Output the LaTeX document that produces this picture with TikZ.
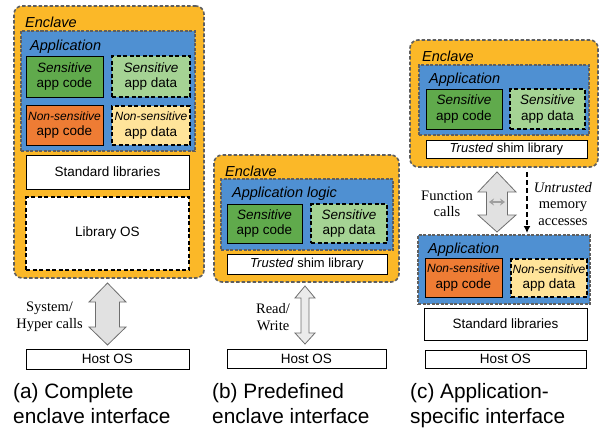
\documentclass[tikz,border=0pt]{standalone}
\usepackage{fontspec}
\setmainfont{Liberation Sans}
\newfontfamily\seriffont{Liberation Serif}
\usetikzlibrary{calc,arrows.meta}
\definecolor{enclfill}{RGB}{251,184,40}
\definecolor{appblue}{RGB}{79,144,210}
\definecolor{sgreen}{RGB}{96,170,76}
\definecolor{lgreen}{RGB}{165,211,148}
\definecolor{norange}{RGB}{238,124,52}
\definecolor{lyellow}{RGB}{255,228,154}
\definecolor{bordgray}{RGB}{95,95,95}
\definecolor{arrfill}{RGB}{225,225,225}
\definecolor{arrline}{RGB}{110,110,110}
\newcommand\mybox[7]{\node[#1, minimum width=#5pt-#3pt, minimum height=#6pt-#4pt] (#2) at (#3,#4) {#7};}
\newcommand\nsfont{\fontsize{12}{15.5}\selectfont}
\tikzset{
  box/.style={anchor=north west, inner sep=0pt, outer sep=0pt, align=center, font=\fontsize{13.5}{15.5}\selectfont},
  enclavebox/.style={box, fill=enclfill, draw=bordgray, line width=1.6pt, dash pattern=on 3.5pt off 2pt, rounded corners=8pt},
  appbox/.style={box, fill=appblue, draw=bordgray, line width=1.3pt, dash pattern=on 3pt off 1.5pt},
  solidbox/.style={box, draw=black, line width=0.9pt},
  dashbox/.style={box, draw=black, line width=1.6pt, dash pattern=on 4pt off 2.5pt},
  lbl/.style={anchor=base west, inner sep=0pt, font=\fontsize{14.5}{17}\selectfont\itshape},
  serlbl/.style={align=center, inner sep=0pt, font=\seriffont\fontsize{14.5}{16.5}\selectfont},
  caption/.style={anchor=base west, align=left, inner sep=0pt, font=\fontsize{20.8}{25}\selectfont},
  blockarrow/.style={fill=arrfill, draw=arrline, line width=0.8pt, line join=miter},
}
\begin{document}
\begin{tikzpicture}[x=1pt,y=-1pt]
\useasboundingbox (0,0) rectangle (600,434);
% ---------- (a) ----------
\mybox{enclavebox}{enclA}{14}{6}{204}{278}{}
\node[lbl] (enclAl) at (25,27) {Enclave};
\mybox{appbox}{appA}{21}{31}{195}{151}{}
\node[lbl] (appAl) at (30,50) {Application};
\mybox{solidbox,fill=sgreen}{scA}{26}{56}{103}{97}{\textit{Sensitive}\\app code}
\mybox{dashbox,fill=lgreen}{sdA}{112}{56}{190}{97}{\textit{Sensitive}\\app data}
\mybox{solidbox,fill=norange}{ncA}{26}{105}{103}{145}{{\nsfont\textit{Non-sensitive}}\\app code}
\mybox{dashbox,fill=lyellow}{ndA}{112}{106}{190}{145}{{\nsfont\textit{Non-sensitive}}\\app data}
\mybox{solidbox,fill=white}{stdA}{26}{155}{189}{189}{Standard libraries}
\mybox{dashbox,fill=white}{losA}{26}{197}{189}{270}{Library OS}
\mybox{solidbox,fill=white}{hostA}{26}{349}{189}{369}{Host OS}
\path (hostA.north |- enclA.south) ++(0,5) coordinate (aTop);
\draw[blockarrow] (aTop) -- ++(18.5,19) -- ++(-6.5,0) -- ++(0,25) -- ++(6.5,0)
  -- ++(-18.5,18) coordinate (aBot) -- ++(-18.5,-18) -- ++(6.5,0) -- ++(0,-25) -- ++(-6.5,0) -- cycle;
\node[serlbl] (callsA) at (49.5,317) {System/\\Hyper calls};
\node[caption] (capA) at (13,423) {(a) Complete\\enclave interface};
% ---------- (b) ----------
\mybox{enclavebox}{enclB}{214}{155}{399}{282}{}
\node[lbl] (enclBl) at (225,176) {Enclave};
\mybox{appbox}{appB}{221}{179}{393}{250}{}
\node[lbl] (appBl) at (232,197) {Application logic};
\mybox{solidbox,fill=sgreen}{scB}{227}{204}{302}{243}{\textit{Sensitive}\\app code}
\mybox{dashbox,fill=lgreen}{sdB}{311}{204}{387}{243}{\textit{Sensitive}\\app data}
\mybox{solidbox,fill=white,font=\fontsize{13}{15}\selectfont}{shimB}{227}{254}{387}{274}{\textit{Trusted} shim library}
\mybox{solidbox,fill=white}{hostB}{227}{349}{386}{368}{Host OS}
\path (hostB.north |- enclB.south) ++(-1.5,4) coordinate (bTop);
\draw[blockarrow, fill=white!92!black] (bTop) -- ++(10,12) -- ++(-6,0) -- ++(0,35) -- ++(6,0)
  -- ++(-10,11) coordinate (bBot) -- ++(-10,-11) -- ++(6,0) -- ++(0,-35) -- ++(-6,0) -- cycle;
\node[serlbl] (rwB) at (273,317) {Read/\\Write};
\node[caption] (capB) at (212,423) {(b) Predefined\\enclave interface};
% ---------- (c) ----------
\mybox{enclavebox}{enclC}{410}{40}{598}{167}{}
\node[lbl] (enclCl) at (422,61) {Enclave};
\mybox{appbox}{appC}{419}{65}{589}{135}{}
\node[lbl] (appCl) at (429,83) {Application};
\mybox{solidbox,fill=sgreen}{scC}{426}{89}{502}{129}{\textit{Sensitive}\\app code}
\mybox{dashbox,fill=lgreen}{sdC}{510}{89}{585}{129}{\textit{Sensitive}\\app data}
\mybox{solidbox,fill=white,font=\fontsize{13}{15}\selectfont}{shimC}{426}{140}{587}{158}{\textit{Trusted} shim library}
\mybox{appbox}{appC2}{418}{235}{590}{304}{}
\node[lbl] (appC2l) at (428,253) {Application};
\mybox{solidbox,fill=norange}{ncC}{425}{258}{502}{297}{{\nsfont\textit{Non-sensitive}}\\app code}
\mybox{dashbox,fill=lyellow}{ndC}{511}{259}{587}{297}{{\nsfont\textit{Non-sensitive}}\\app data}
\mybox{solidbox,fill=white}{stdC}{424}{308}{587}{340}{Standard libraries}
\mybox{solidbox,fill=white}{hostC}{425}{350}{586}{368}{Host OS}
\coordinate (cTop) at (497,172);
\draw[blockarrow] (cTop) -- ++(19,20) -- ++(-8.5,0) -- ++(0,23) -- ++(8.5,0)
  -- ++(-19,17) coordinate (cBot) -- ++(-19,-17) -- ++(8.5,0) -- ++(0,-23) -- ++(-8.5,0) -- cycle;
\coordinate (fL) at (489,202);
\coordinate (fR) at (505,202);
\draw[{Stealth[length=5pt,width=7pt]}-{Stealth[length=5pt,width=7pt]}, draw=gray!75, line width=1.8pt] (fL) -- (fR);
\node[serlbl] (funcC) at (447,204) {Function\\calls};
\coordinate (dTop) at (527,172);
\coordinate (dBot) at (527,233);
\draw[-{Latex[length=7pt,width=7pt]}, line width=2pt, dash pattern=on 5pt off 3pt] (dTop) -- (dBot);
\node[serlbl] (memC) at (563,204) {\textit{Untrusted}\\memory\\accesses};
\node[caption] (capC) at (410,423) {(c) Application-\\specific interface};
\end{tikzpicture}
\end{document}
